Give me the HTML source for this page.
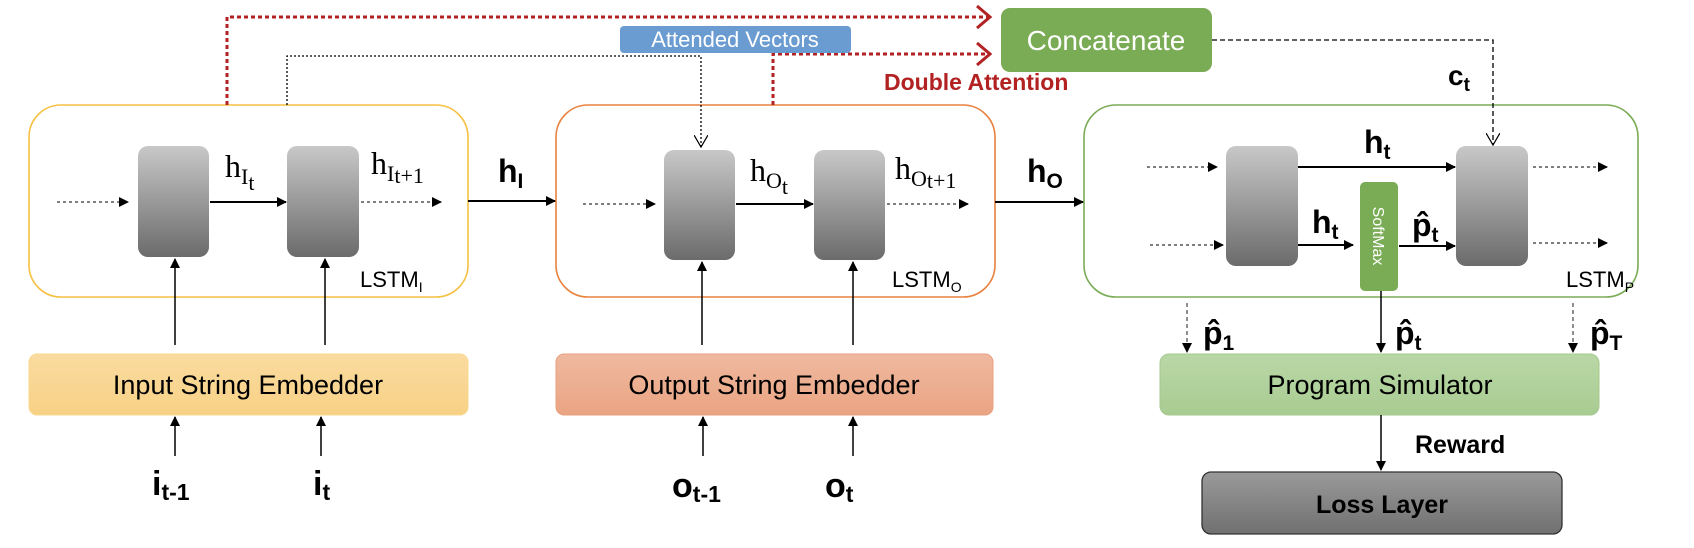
<!DOCTYPE html>
<html><head><meta charset="utf-8"><style>
html,body{margin:0;padding:0;background:#fff;}
svg{display:block;}
text{font-family:"Liberation Sans Narrow","Liberation Sans",sans-serif;}
.b{font-weight:bold;}
.s{font-family:"Liberation Serif",serif;}
</style></head><body>
<svg width="1694" height="548" viewBox="0 0 1694 548" xmlns="http://www.w3.org/2000/svg">
<defs>
<linearGradient id="cg" x1="0" y1="0" x2="0" y2="1"><stop offset="0" stop-color="#c8c8c8"/><stop offset="1" stop-color="#6b6b6b"/></linearGradient>
<linearGradient id="lg" x1="0" y1="0" x2="0" y2="1"><stop offset="0" stop-color="#9a9a9a"/><stop offset="1" stop-color="#707070"/></linearGradient>
<linearGradient id="yg" x1="0" y1="0" x2="0" y2="1"><stop offset="0" stop-color="#fadba0"/><stop offset="1" stop-color="#f7d185"/></linearGradient>
<linearGradient id="og" x1="0" y1="0" x2="0" y2="1"><stop offset="0" stop-color="#efb9a0"/><stop offset="1" stop-color="#eaa482"/></linearGradient>
<linearGradient id="gg" x1="0" y1="0" x2="0" y2="1"><stop offset="0" stop-color="#b9d7a6"/><stop offset="1" stop-color="#a9cc92"/></linearGradient>
<marker id="a" markerWidth="10" markerHeight="10" refX="9" refY="5" orient="auto" markerUnits="userSpaceOnUse"><path d="M0,0 L10,5 L0,10z" fill="#000"/></marker>
<marker id="ao" markerWidth="14" markerHeight="14" refX="12" refY="7" orient="auto" markerUnits="userSpaceOnUse"><path d="M0,0 L12,7 L0,14" fill="none" stroke="#000" stroke-width="1.2"/></marker>
<marker id="ar" markerWidth="18" markerHeight="24" refX="15" refY="12" orient="auto" markerUnits="userSpaceOnUse"><path d="M2,1 L15,12 L2,23" fill="none" stroke="#b22222" stroke-width="3"/></marker>
</defs>

<!-- boxes first -->
<rect x="29" y="105" width="439" height="192" rx="32" fill="#fff" stroke="#f6c142" stroke-width="1.6"/>
<rect x="556" y="105" width="439" height="192" rx="32" fill="#fff" stroke="#e8823e" stroke-width="1.6"/>
<rect x="1084" y="105" width="554" height="192" rx="32" fill="#fff" stroke="#7aab55" stroke-width="1.6"/>

<!-- red dotted attention lines -->
<path d="M227,105 V17 H990" fill="none" stroke="#b22222" stroke-width="3" stroke-dasharray="4,3" marker-end="url(#ar)"/>
<path d="M773,105 V54 H990" fill="none" stroke="#b22222" stroke-width="3" stroke-dasharray="4,3" marker-end="url(#ar)"/>
<!-- black dotted attended -->
<path d="M287,105 V56 H701 V147" fill="none" stroke="#000" stroke-width="1.3" stroke-dasharray="2,2" marker-end="url(#ao)"/>
<rect x="620" y="26" width="231" height="27" rx="4" fill="#6a9bd1"/>
<text x="735" y="47" font-size="22" fill="#fff" text-anchor="middle">Attended Vectors</text>
<rect x="1001" y="8" width="211" height="64" rx="9" fill="#7aab55"/>
<text x="1106" y="50" font-size="28" fill="#fff" text-anchor="middle">Concatenate</text>
<text x="884" y="90" font-size="23" fill="#b22222" class="b">Double Attention</text>
<path d="M1212,40 H1493 V145" fill="none" stroke="#000" stroke-width="1.3" stroke-dasharray="5,3" marker-end="url(#ao)"/>
<text x="1448" y="85" font-size="28" class="b">c<tspan font-size="19" dy="6">t</tspan></text>

<!-- LSTM_I -->
<rect x="138" y="146" width="71" height="111" rx="10" fill="url(#cg)"/>
<rect x="287" y="146" width="72" height="111" rx="10" fill="url(#cg)"/>
<line x1="57" y1="202" x2="128" y2="202" stroke="#555" stroke-width="1.5" stroke-dasharray="3,3" marker-end="url(#a)"/>
<line x1="210" y1="202" x2="286" y2="202" stroke="#000" stroke-width="2" marker-end="url(#a)"/>
<line x1="361" y1="202" x2="441" y2="202" stroke="#555" stroke-width="1.5" stroke-dasharray="3,3" marker-end="url(#a)"/>
<text x="225" y="177" font-size="32" class="s">h<tspan font-size="22" dy="7">I</tspan><tspan font-size="22" dy="6">t</tspan></text>
<text x="371" y="174" font-size="32" class="s">h<tspan font-size="22" dy="7">I</tspan><tspan font-size="22" dy="2">t+1</tspan></text>
<text x="360" y="287" font-size="22">LSTM<tspan font-size="14" dy="5">I</tspan></text>
<line x1="175" y1="345" x2="175" y2="259" stroke="#000" stroke-width="1.5" marker-end="url(#a)"/>
<line x1="325" y1="345" x2="325" y2="259" stroke="#000" stroke-width="1.5" marker-end="url(#a)"/>
<rect x="29" y="354" width="439" height="61" rx="8" fill="url(#yg)" stroke="#f7d98f"/>
<text x="248" y="394" font-size="27" text-anchor="middle">Input String Embedder</text>
<line x1="175" y1="456" x2="175" y2="417" stroke="#000" stroke-width="1.5" marker-end="url(#a)"/>
<line x1="321" y1="456" x2="321" y2="417" stroke="#000" stroke-width="1.5" marker-end="url(#a)"/>
<text x="152" y="495" font-size="34" class="b">i<tspan font-size="23" dy="5">t-1</tspan></text>
<text x="313" y="495" font-size="34" class="b">i<tspan font-size="23" dy="5">t</tspan></text>

<line x1="468" y1="201" x2="555" y2="201" stroke="#000" stroke-width="2" marker-end="url(#a)"/>
<text x="498" y="182" font-size="32" class="b">h<tspan font-size="21" dy="6">I</tspan></text>

<!-- LSTM_O -->
<rect x="664" y="150" width="71" height="110" rx="10" fill="url(#cg)"/>
<rect x="814" y="150" width="71" height="110" rx="10" fill="url(#cg)"/>
<line x1="583" y1="204" x2="655" y2="204" stroke="#555" stroke-width="1.5" stroke-dasharray="3,3" marker-end="url(#a)"/>
<line x1="736" y1="204" x2="813" y2="204" stroke="#000" stroke-width="2" marker-end="url(#a)"/>
<line x1="887" y1="204" x2="968" y2="204" stroke="#555" stroke-width="1.5" stroke-dasharray="3,3" marker-end="url(#a)"/>
<text x="750" y="181" font-size="32" class="s">h<tspan font-size="22" dy="7">O</tspan><tspan font-size="22" dy="6">t</tspan></text>
<text x="895" y="179" font-size="32" class="s">h<tspan font-size="22" dy="7">O</tspan><tspan font-size="22" dy="2">t+1</tspan></text>
<text x="892" y="287" font-size="22">LSTM<tspan font-size="14" dy="5">O</tspan></text>
<line x1="702" y1="345" x2="702" y2="262" stroke="#000" stroke-width="1.5" marker-end="url(#a)"/>
<line x1="853" y1="345" x2="853" y2="262" stroke="#000" stroke-width="1.5" marker-end="url(#a)"/>
<rect x="556" y="354" width="437" height="61" rx="8" fill="url(#og)" stroke="#e7a080"/>
<text x="774" y="394" font-size="27" text-anchor="middle">Output String Embedder</text>
<line x1="703" y1="456" x2="703" y2="417" stroke="#000" stroke-width="1.5" marker-end="url(#a)"/>
<line x1="853" y1="456" x2="853" y2="417" stroke="#000" stroke-width="1.5" marker-end="url(#a)"/>
<text x="672" y="497" font-size="34" class="b">o<tspan font-size="23" dy="5">t-1</tspan></text>
<text x="825" y="497" font-size="34" class="b">o<tspan font-size="23" dy="5">t</tspan></text>

<line x1="995" y1="202" x2="1083" y2="202" stroke="#000" stroke-width="2" marker-end="url(#a)"/>
<text x="1027" y="182" font-size="32" class="b">h<tspan font-size="21" dy="6">O</tspan></text>

<!-- LSTM_P -->
<rect x="1226" y="146" width="72" height="120" rx="10" fill="url(#cg)"/>
<rect x="1456" y="146" width="72" height="120" rx="10" fill="url(#cg)"/>
<line x1="1147" y1="167" x2="1217" y2="167" stroke="#555" stroke-width="1.5" stroke-dasharray="3,3" marker-end="url(#a)"/>
<line x1="1150" y1="245" x2="1223" y2="245" stroke="#555" stroke-width="1.5" stroke-dasharray="3,3" marker-end="url(#a)"/>
<line x1="1298" y1="167" x2="1455" y2="167" stroke="#000" stroke-width="2" marker-end="url(#a)"/>
<line x1="1298" y1="245" x2="1353" y2="245" stroke="#000" stroke-width="2" marker-end="url(#a)"/>
<line x1="1399" y1="246" x2="1455" y2="246" stroke="#000" stroke-width="2" marker-end="url(#a)"/>
<line x1="1533" y1="167" x2="1607" y2="167" stroke="#555" stroke-width="1.5" stroke-dasharray="3,3" marker-end="url(#a)"/>
<line x1="1533" y1="243" x2="1607" y2="243" stroke="#555" stroke-width="1.5" stroke-dasharray="3,3" marker-end="url(#a)"/>
<rect x="1360" y="182" width="38" height="109" rx="5" fill="#7aab55"/>
<text transform="translate(1373,236) rotate(90)" font-size="16" fill="#fff" text-anchor="middle" font-family="Liberation Sans,sans-serif">SoftMax</text>
<text x="1364" y="153" font-size="32" class="b">h<tspan font-size="21" dy="6">t</tspan></text>
<text x="1312" y="233" font-size="32" class="b">h<tspan font-size="21" dy="6">t</tspan></text>
<text x="1412" y="236" font-size="32" class="b">p̂<tspan font-size="21" dy="6">t</tspan></text>
<text x="1566" y="287" font-size="22">LSTM<tspan font-size="14" dy="5">P</tspan></text>

<line x1="1187" y1="303" x2="1187" y2="352" stroke="#555" stroke-width="1.3" stroke-dasharray="4,3" marker-end="url(#a)"/>
<line x1="1381" y1="291" x2="1381" y2="352" stroke="#000" stroke-width="1.5" marker-end="url(#a)"/>
<line x1="1573" y1="303" x2="1573" y2="352" stroke="#555" stroke-width="1.3" stroke-dasharray="4,3" marker-end="url(#a)"/>
<text x="1203" y="344" font-size="32" class="b">p̂<tspan font-size="21" dy="6">1</tspan></text>
<text x="1395" y="344" font-size="32" class="b">p̂<tspan font-size="21" dy="6">t</tspan></text>
<text x="1590" y="344" font-size="32" class="b">p̂<tspan font-size="21" dy="6">T</tspan></text>

<rect x="1160" y="354" width="439" height="61" rx="9" fill="url(#gg)" stroke="#a4c98e"/>
<text x="1380" y="394" font-size="27" text-anchor="middle">Program Simulator</text>
<line x1="1381" y1="415" x2="1381" y2="470" stroke="#000" stroke-width="1.5" marker-end="url(#a)"/>
<text x="1415" y="453" font-size="25" class="b">Reward</text>
<rect x="1202" y="472" width="360" height="62" rx="9" fill="url(#lg)" stroke="#333" stroke-width="1.3"/>
<text x="1382" y="513" font-size="25" class="b" text-anchor="middle">Loss Layer</text>
</svg>
</body></html>
